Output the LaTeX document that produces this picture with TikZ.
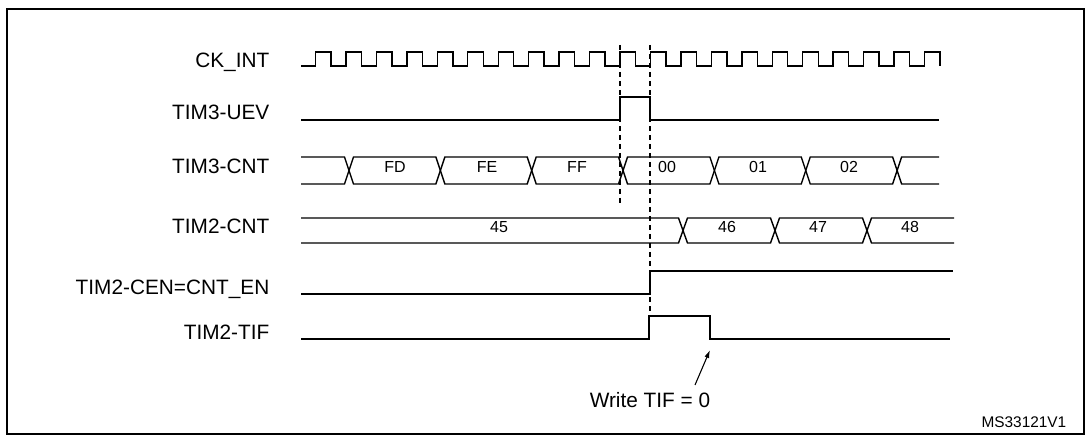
\documentclass[tikz,border=0pt]{standalone}
\usepackage{fontspec}
\setmainfont{Liberation Sans}
\usetikzlibrary{arrows.meta}

\begin{document}
\begin{tikzpicture}[x=1bp, y=-1bp, line width=1.4bp,
		lbl/.style={anchor=base east, inner sep=0pt, font=\fontsize{20.8bp}{24bp}\selectfont},
		val/.style={anchor=base, inner sep=0pt, font=\fontsize{16bp}{19bp}\selectfont},
		mark line/.style={line width=1.2bp, dash pattern=on 5bp off 4bp}]
				% Frame:
				\useasboundingbox (0,0) rectangle (1087,437);
				\draw[line width=2bp] (7,9) rectangle (1083.5,434.5);
				% Signal names:
				\node[lbl] (L1) at (270,67.3) {CK\_INT};
				\node[lbl] (L2) at (270,120) {TIM3-UEV};
				\node[lbl] (L3) at (270,174) {TIM3-CNT};
				\node[lbl] (L4) at (270,234) {TIM2-CNT};
				\node[lbl] (L5) at (270,295) {TIM2-CEN=CNT\_EN};
				\node[lbl] (L6) at (270,340) {TIM2-TIF};
				% Waveforms:
				\draw (301,66) -- (315.5,66)
					|- ++(15.5,-14) |- ++(14.95,14) |- ++(15.5,-14) |- ++(14.95,14) |- ++(15.5,-14) |- ++(14.95,14)
					|- ++(15.5,-14) |- ++(14.95,14) |- ++(15.5,-14) |- ++(14.95,14) |- ++(15.5,-14) |- ++(14.95,14)
					|- ++(15.5,-14) |- ++(14.95,14) |- ++(15.5,-14) |- ++(14.95,14) |- ++(15.5,-14) |- ++(14.95,14)
					|- ++(15.5,-14) |- ++(14.95,14) |- ++(15.5,-14) |- ++(14.95,14) |- ++(15.5,-14) |- ++(14.95,14)
					|- ++(15.5,-14) |- ++(14.95,14) |- ++(15.5,-14) |- ++(14.95,14) |- ++(15.5,-14) |- ++(14.95,14)
					|- ++(15.5,-14) |- ++(14.95,14) |- ++(15.5,-14) |- ++(14.95,14) |- ++(15.5,-14) |- ++(14.95,14)
					|- ++(15.5,-14) |- ++(14.95,14) |- ++(15.5,-14) |- ++(14.95,14)
					|- ++(15.5,-14) -- ++(0,14);
				\draw (301,120) -- (620,120) |- (650,97) |- (939,120);
				\draw (301,157) -- (344.5,157) -- (353.5,184) -- (435.85,184) -- (444.85,157) -- (527.2,157) -- (536.2,184) -- (618.55,184)
					-- (627.55,157) -- (709.9,157) -- (718.9,184) -- (801.25,184) -- (810.25,157) -- (892.6,157) -- (901.6,184) -- (939,184);
				\draw (301,184) -- (344.5,184) -- (353.5,157) -- (435.85,157) -- (444.85,184) -- (527.2,184) -- (536.2,157) -- (618.55,157)
					-- (627.55,184) -- (709.9,184) -- (718.9,157) -- (801.25,157) -- (810.25,184) -- (892.6,184) -- (901.6,157) -- (939,157);
				\draw (301,218) -- (678.5,218) -- (687.5,243) -- (770.5,243) -- (779.5,218) -- (862.5,218) -- (871.5,243) -- (954,243);
				\draw (301,243) -- (678.5,243) -- (687.5,218) -- (770.5,218) -- (779.5,243) -- (862.5,243) -- (871.5,218) -- (954,218);
				\draw (301,294) -- (650,294) |- (953,271);
				\draw (301,339) -- (649,339) |- (710,316) |- (950,339);
				% Counter values:
				\node[val] (V1) at (395,173) {FD};
				\node[val] (V2) at (487,173) {FE};
				\node[val] (V3) at (577,173) {FF};
				\node[val] (V4) at (667,173) {00};
				\node[val] (V5) at (758,173) {01};
				\node[val] (V6) at (849,173) {02};
				\node[val] (V7) at (499,233) {45};
				\node[val] (V8) at (727,233) {46};
				\node[val] (V9) at (818,233) {47};
				\node[val] (V10) at (910,233) {48};
				% Markers:
				\draw[mark line] (620,45) -- (620,207);
				\draw[mark line] (650,45) -- (650,316);
				\node[lbl, anchor=base] (W1) at (650,408) {Write TIF = 0};
				\coordinate (A1) at (695,385);
				\coordinate (A2) at (710,350);
				\draw[-{Latex[length=8bp,width=5bp]}, line width=1.1bp] (A1) -- (A2);
				\node[anchor=base east, inner sep=0pt, font=\fontsize{15.4bp}{18bp}\selectfont] (M1) at (1067,427.7) {MS33121V1};
			\end{tikzpicture}
\end{document}
